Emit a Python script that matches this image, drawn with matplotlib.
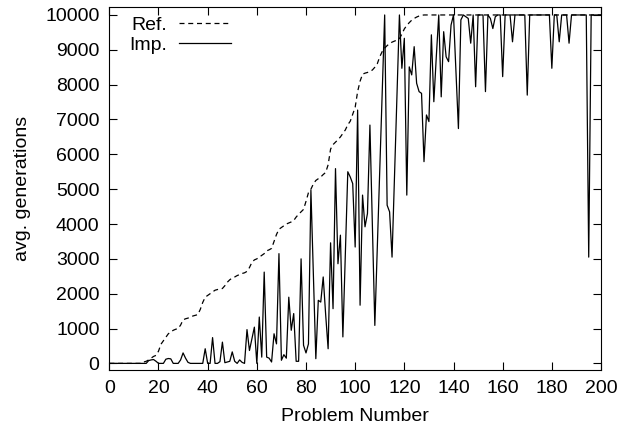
import numpy as np
import matplotlib
matplotlib.use('Agg')
import matplotlib.pyplot as plt

plt.rcParams['font.family'] = ['Liberation Sans', 'DejaVu Sans']

# average generations per problem (problems 0..200)
ref = [
    0, 0, 0, 0, 0, 0, 0, 0, 0, 0,
    0, 0, 0, 0, 40, 60, 100, 150, 200, 230,
    350, 550, 650, 750, 850, 900, 950, 980, 1000, 1100,
    1250, 1280, 1300, 1330, 1360, 1380, 1400, 1550, 1750, 1900,
    1950, 2000, 2050, 2100, 2120, 2130, 2150, 2230, 2330, 2400,
    2450, 2480, 2520, 2550, 2580, 2600, 2640, 2750, 2900, 2970,
    3000, 3050, 3100, 3150, 3230, 3260, 3300, 3500, 3700, 3850,
    3900, 3950, 4000, 4030, 4060, 4100, 4200, 4280, 4350, 4420,
    4650, 4900, 5000, 5150, 5250, 5300, 5350, 5420, 5480, 5700,
    6150, 6280, 6350, 6420, 6500, 6600, 6700, 6850, 6950, 7150,
    7350, 7800, 8100, 8300, 8330, 8350, 8380, 8420, 8500, 8600,
    8800, 8950, 9050, 9120, 9180, 9220, 9250, 9280, 9320, 9450,
    9600, 9700, 9780, 9850, 9900, 9940, 9970, 9990, 10000, 10000,
    10000, 10000, 10000, 10000, 10000, 10000, 10000, 10000, 10000, 10000,
    10000, 10000, 10000, 10000, 10000, 10000, 10000, 10000, 10000, 10000,
    10000, 10000, 10000, 10000, 10000, 10000, 10000, 10000, 10000, 10000,
    10000, 10000, 10000, 10000, 10000, 10000, 10000, 10000, 10000, 10000,
    10000, 10000, 10000, 10000, 10000, 10000, 10000, 10000, 10000, 10000,
    10000, 10000, 10000, 10000, 10000, 10000, 10000, 10000, 10000, 10000,
    10000, 10000, 10000, 10000, 10000, 10000, 10000, 10000, 10000, 10000,
    10000,
]

imp = [
    0, 0, 0, 0, 0, 0, 0, 0, 0, 0,
    0, 0, 0, 0, 0, 0, 80, 100, 110, 60,
    0, 0, 0, 120, 140, 130, 0, 0, 0, 100,
    300, 150, 30, 0, 0, 0, 0, 0, 0, 420,
    0, 0, 740, 0, 0, 50, 610, 20, 40, 60,
    330, 60, 0, 100, 30, 0, 970, 370, 700, 1040,
    0, 1330, 180, 2620, 180, 150, 40, 850, 560, 3150,
    90, 250, 150, 1900, 950, 1430, 60, 60, 3000, 520,
    300, 560, 4970, 2500, 135, 1810, 1760, 2480, 1400, 420,
    3460, 1570, 5590, 2860, 3680, 760, 3100, 5500, 5350, 5160,
    3340, 7270, 1670, 4830, 3920, 4300, 6840, 4000, 1090, 3300,
    5500, 7800, 10000, 4540, 4350, 3050, 5400, 7700, 10000, 8470,
    9330, 4830, 8510, 8280, 9090, 8040, 7800, 7750, 5790, 7130,
    6940, 9430, 7510, 8800, 10000, 7650, 9520, 8800, 8660, 9710,
    10000, 8400, 6740, 9860, 10000, 9950, 9900, 9190, 10000, 7940,
    10000, 10000, 10000, 7800, 10000, 9900, 9610, 9950, 10000, 10000,
    8230, 10000, 10000, 10000, 9230, 10000, 10000, 10000, 10000, 10000,
    7700, 10000, 10000, 10000, 10000, 10000, 10000, 10000, 10000, 10000,
    8470, 10000, 10000, 9230, 10000, 10000, 10000, 9190, 10000, 10000,
    10000, 10000, 10000, 10000, 10000, 3050, 10000, 10000, 10000, 10000,
    10000,
]

problems = np.arange(len(ref))
xticks = [0, 20, 40, 60, 80, 100, 120, 140, 160, 180, 200]
yticks = [0, 1000, 2000, 3000, 4000, 5000, 6000, 7000, 8000, 9000, 10000]

fig = plt.figure(figsize=(6.29, 4.32), dpi=100)
ax = fig.add_axes([0.1738, 0.1435, 0.7817, 0.8396])

ax.plot(problems, ref, color='black', lw=0.9, linestyle=(0, (4, 3)), label='Ref.')
ax.plot(problems, imp, color='black', lw=0.9, label='Imp.')

ax.set_xlim(0, 200)
ax.set_ylim(-190, 10220)
ax.set_xticks(xticks)
ax.set_yticks(yticks)
ax.tick_params(direction='in', length=6, width=0.8, top=True, right=True,
               labelsize=14, pad=7)
for s in ax.spines.values():
    s.set_linewidth(0.8)

ax.set_xlabel('Problem Number', fontsize=14, labelpad=8)
ax.set_ylabel('avg. generations', fontsize=14, labelpad=10)

ax.legend(loc='upper left', bbox_to_anchor=(0.04, 0.975), frameon=False,
          markerfirst=False, fontsize=14, handlelength=2.7, handletextpad=0.6,
          labelspacing=0.1, borderpad=0, borderaxespad=0)

fig.savefig('out.png', dpi=100)
